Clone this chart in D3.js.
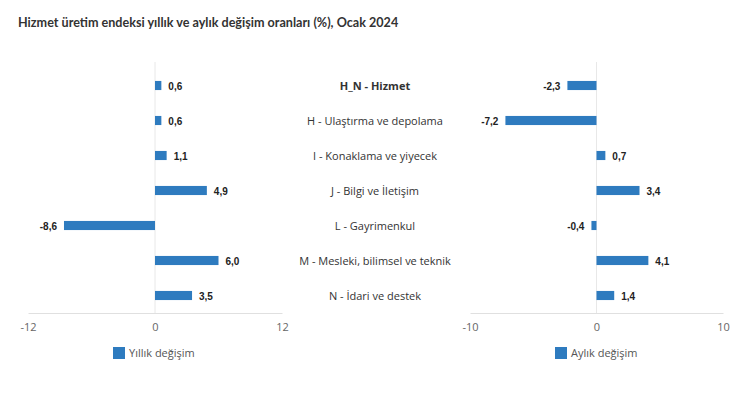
<!DOCTYPE html>
<html><head><meta charset="utf-8">
<script src="https://cdn.jsdelivr.net/npm/d3@7"></script>
<style>body{margin:0;background:#fff}svg{display:block}</style>
</head><body><svg id="c" width="750" height="396"></svg>
<script>
const categories = ["H_N - Hizmet","H - Ulaştırma ve depolama","I - Konaklama ve yiyecek","J - Bilgi ve İletişim","L - Gayrimenkul","M - Mesleki, bilimsel ve teknik","N - İdari ve destek"];
const yillik = [0.6,0.6,1.1,4.9,-8.6,6.0,3.5];
const aylik = [-2.3,-7.2,0.7,3.4,-0.4,4.1,1.4];
const leftTicks = [-12,0,12];
const rightTicks = [-10,0,10];
const title = "Hizmet üretim endeksi yıllık ve aylık değişim oranları (%), Ocak 2024";
const legendNames = ["Yıllık değişim","Aylık değişim"];

const svg = d3.select("#c");
const font = "'Open Sans', sans-serif";
const barColor = "#2e7bbf";
svg.append("rect").attr("width",750).attr("height",396).attr("fill","#fff");
svg.append("text").attr("x",18).attr("y",27).text(title)
  .attr("font-family","Lato, sans-serif").attr("font-weight","bold").attr("font-size",12.6).attr("fill","#333");

const y = d3.scaleBand().domain(categories).range([68,313]).paddingInner(0.74).paddingOuter(0.37);
const fmt = v => d3.format(".1f")(v).replace(".",",").replace("\u2212","-");

function panel(vals, domain, range, ticks, legendX, legendName){
  const x = d3.scaleLinear().domain(domain).range(range);
  const g = svg.append("g");
  g.append("line").attr("x1",x(0)).attr("x2",x(0)).attr("y1",62).attr("y2",313).attr("stroke","#e8e8e8");
  const ax = d3.axisBottom(x).tickValues(ticks).tickSize(0).tickPadding(10).tickFormat(d=>String(d));
  const ag = g.append("g").attr("transform","translate(0,313)").call(ax);
  ag.select(".domain").attr("stroke","#e0e0e0");
  ag.selectAll("text").attr("font-family",font).attr("font-size",11).attr("fill","#666");
  g.selectAll("rect.bar").data(vals).join("rect").attr("class","bar")
    .attr("x",d=>x(Math.min(0,d))).attr("width",d=>Math.abs(x(d)-x(0)))
    .attr("y",(d,i)=>y(categories[i])).attr("height",y.bandwidth()).attr("fill",barColor);
  g.selectAll("text.lbl").data(vals).join("text").attr("class","lbl")
    .attr("x",d=> d<0 ? x(d)-7 : x(d)+7)
    .attr("text-anchor",d=> d<0 ? "end":"start")
    .attr("y",(d,i)=>y(categories[i])+y.bandwidth()/2+4)
    .text(fmt).attr("font-family","'Liberation Sans', Arial, sans-serif").attr("font-weight","bold")
    .attr("font-size",10).attr("fill","#222");
  svg.append("rect").attr("x",legendX).attr("y",347).attr("width",12).attr("height",12).attr("fill",barColor);
  svg.append("text").attr("x",legendX+16).attr("y",357).text(legendName)
    .attr("font-family",font).attr("font-size",11).attr("fill","#555");
}
panel(yillik,[-12,12],[28,282],leftTicks,113,legendNames[0]);
panel(aylik,[-10,10],[470,723],rightTicks,555,legendNames[1]);

svg.selectAll("text.cat").data(categories).join("text").attr("class","cat")
  .attr("x",375).attr("text-anchor","middle")
  .attr("y",d=>y(d)+y.bandwidth()/2+4)
  .attr("font-weight",(d,i)=>i===0?"bold":"normal")
  .text(d=>d).attr("font-family",font).attr("font-size",11).attr("fill","#333");
</script></body></html>
